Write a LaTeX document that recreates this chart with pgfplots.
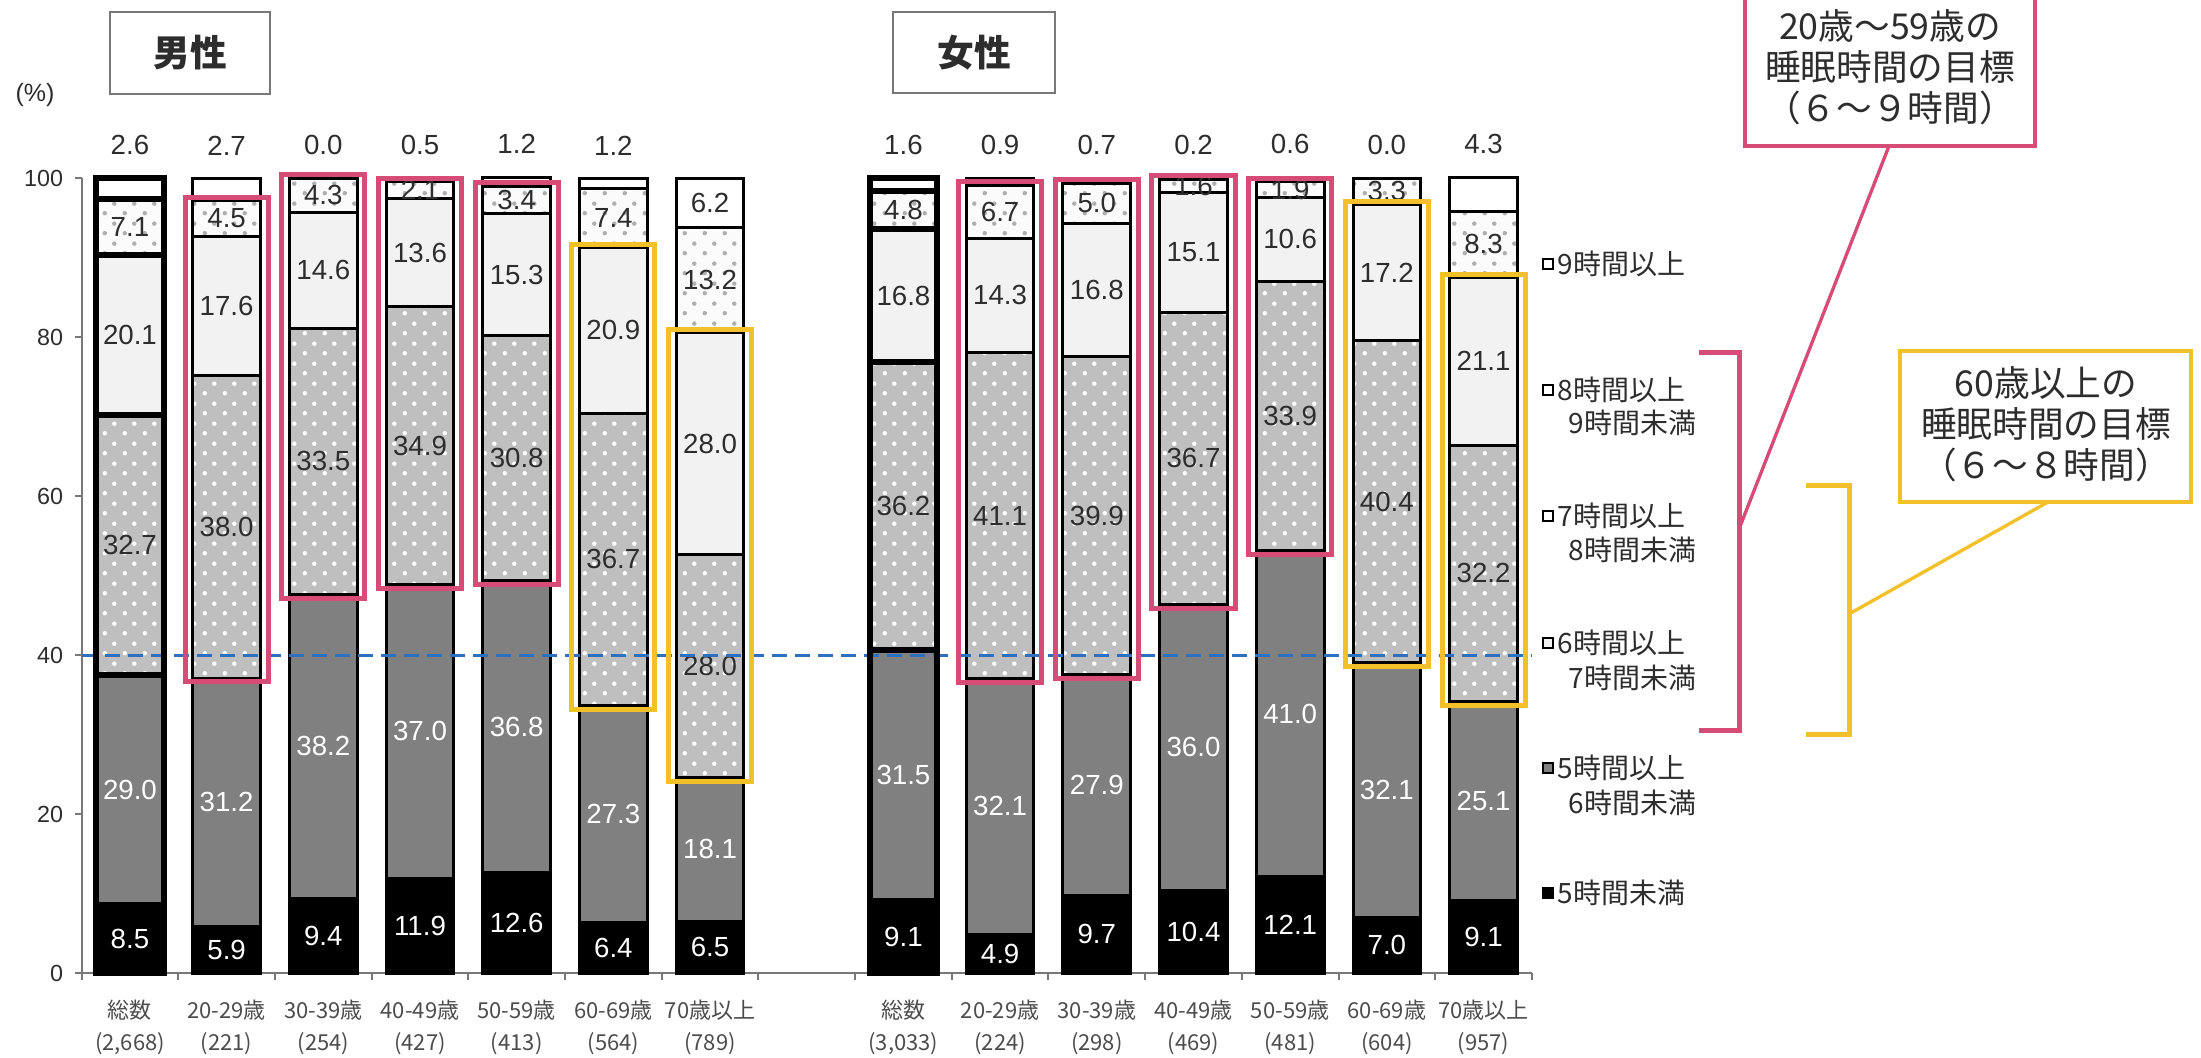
\documentclass[border=0pt]{standalone}
\usepackage{fontspec}
\setmainfont{Liberation Sans}
\newfontfamily\jp{Noto Sans CJK JP}
\usepackage{pgfplots}
\pgfplotsset{compat=1.18}
\usepackage{pgfplotstable}
\usetikzlibrary{patterns}

\pgfdeclarepatternformonly{bigdots}{\pgfpointorigin}{\pgfpoint{6pt}{6pt}}{\pgfpoint{6pt}{6pt}}{%
  \pgfpathcircle{\pgfpoint{1.5pt}{1.5pt}}{0.7pt}%
  \pgfpathcircle{\pgfpoint{4.5pt}{4.5pt}}{0.7pt}%
  \pgfusepath{fill}}

\definecolor{pinkc}{RGB}{214,76,118}
\definecolor{yelc}{RGB}{242,192,40}
\definecolor{bluec}{RGB}{46,112,190}
\definecolor{txt}{RGB}{45,45,45}
\definecolor{axc}{RGB}{120,120,120}
\definecolor{segb}{RGB}{128,128,128}
\definecolor{segc}{RGB}{191,191,191}
\definecolor{segd}{RGB}{242,242,242}
\definecolor{sege}{RGB}{251,251,251}
\definecolor{dotg}{RGB}{175,175,175}

\newcommand\vfont{\fontsize{8.3}{9}\selectfont}

\pgfplotstableread{
x a b c d e f
0 8.5 29.0 32.7 20.1 7.1 2.6
1 5.9 31.2 38.0 17.6 4.5 2.7
2 9.4 38.2 33.5 14.6 4.3 0.0
3 11.9 37.0 34.9 13.6 2.1 0.5
4 12.6 36.8 30.8 15.3 3.4 1.2
5 6.4 27.3 36.7 20.9 7.4 1.2
6 6.5 18.1 28.0 28.0 13.2 6.2
8 9.1 31.5 36.2 16.8 4.8 1.6
9 4.9 32.1 41.1 14.3 6.7 0.9
10 9.7 27.9 39.9 16.8 5.0 0.7
11 10.4 36.0 36.7 15.1 1.6 0.2
12 12.1 41.0 33.9 10.6 1.9 0.6
13 7.0 32.1 40.4 17.2 3.3 0.0
14 9.1 25.1 32.2 21.1 8.3 4.3
}\sleep

\pgfplotsset{
  calctop/.code={\pgfkeys{/pgf/fpu=true,/pgf/fpu/output format=fixed}%
     \pgfmathsetmacro\myshift{\pgfplotspointmeta>5 ? 0 : 10+\pgfplotspointmeta*1.1925}%
     \pgfkeys{/pgf/fpu=false}},
  seglabel/.style={
    point meta=explicit,
    nodes near coords={\pgfmathprintnumber[fixed,fixed zerofill,precision=1]{\pgfplotspointmeta}},
    every node near coord/.append style={anchor=center, inner sep=0pt, text=#1, font=\vfont},
  },
  toplabel/.style={
    point meta=explicit,
    nodes near coords={\pgfmathprintnumber[fixed,fixed zerofill,precision=1]{\pgfplotspointmeta}},
    every node near coord/.append style={anchor=center, inner sep=0pt,
      /pgfplots/calctop, yshift=\myshift pt, text=txt, font=\vfont},
  },
  common/.style={
    at={(24.48pt,-291.9pt)}, anchor=south west,
    scale only axis, width=435.1pt, height=238.5pt,
    xmin=-0.5, xmax=14.5, ymin=0, ymax=100,
    ybar stacked, bar width=0.7, clip=false,
  },
}

\begin{document}
\begin{tikzpicture}
\begin{axis}[common,
  axis x line*=bottom, axis y line*=left,
  axis line style={draw=axc, line width=0.6pt},
  tick style={draw=axc, line width=0.6pt},
  tick align=outside, major tick length=2pt,
  ytick={0,20,40,60,80,100},
  /pgf/number format/assume math mode=true,
  yticklabel style={font=\fontsize{7}{8}\selectfont, text=txt},
  xtick={-0.5,0.5,...,14.5},
  x tick label as interval,
  xticklabels={{総数\\(2,668)},{20-29歳\\(221)},{30-39歳\\(254)},{40-49歳\\(427)},{50-59歳\\(413)},{60-69歳\\(564)},{70歳以上\\(789)},{},{総数\\(3,033)},{20-29歳\\(224)},{30-39歳\\(298)},{40-49歳\\(469)},{50-59歳\\(481)},{60-69歳\\(604)},{70歳以上\\(957)}},
  xticklabel style={font=\jp\fontsize{6.6}{9.6}\selectfont, text=txt!85, align=center, yshift=-2.5pt},
]
\addplot[fill=black, draw=black, line width=0.9pt, seglabel=white] table[x=x,y=a,meta=a]{\sleep};
\addplot[fill=segb, draw=black, line width=0.9pt, seglabel=white] table[x=x,y=b,meta=b]{\sleep};
\addplot[fill=segc, draw=black, line width=0.9pt, postaction={pattern=bigdots, pattern color=white}, seglabel=txt] table[x=x,y=c,meta=c]{\sleep};
\addplot[fill=segd, draw=black, line width=0.9pt, seglabel=txt] table[x=x,y=d,meta=d]{\sleep};
\addplot[fill=sege, draw=black, line width=0.9pt, postaction={pattern=bigdots, pattern color=dotg}, seglabel=txt] table[x=x,y=e,meta=e]{\sleep};
\addplot[fill=white, draw=black, line width=0.9pt, toplabel] table[x=x,y=f,meta=f]{\sleep};
% zero-height segments (9h+ = 0.0) get their labels here
\node[font=\vfont, text=txt, inner sep=0pt, yshift=10pt] at (axis cs:2,100) {0.0};
\node[font=\vfont, text=txt, inner sep=0pt, yshift=10pt] at (axis cs:13,100) {0.0};
\end{axis}

\begin{axis}[common, hide axis]
\addplot[fill=none, draw=black, line width=1.8pt, x filter/.expression={or(x==0,x==8)?x:nan}] table[x=x,y=a]{\sleep};
\addplot[fill=none, draw=black, line width=1.8pt, x filter/.expression={or(x==0,x==8)?x:nan}] table[x=x,y=b]{\sleep};
\addplot[fill=none, draw=black, line width=1.8pt, x filter/.expression={or(x==0,x==8)?x:nan}] table[x=x,y=c]{\sleep};
\addplot[fill=none, draw=black, line width=1.8pt, x filter/.expression={or(x==0,x==8)?x:nan}] table[x=x,y=d]{\sleep};
\addplot[fill=none, draw=black, line width=1.8pt, x filter/.expression={or(x==0,x==8)?x:nan}] table[x=x,y=e]{\sleep};
\addplot[fill=none, draw=black, line width=1.8pt, x filter/.expression={or(x==0,x==8)?x:nan}] table[x=x,y=f]{\sleep};
% target ranges 6-9 h (20-59)
\draw[pinkc, line width=1.5pt] (0.57,36.7) rectangle (1.43,97.6);
\draw[pinkc, line width=1.5pt] (1.57,47.1) rectangle (2.43,100.4);
\draw[pinkc, line width=1.5pt] (2.57,48.4) rectangle (3.43,100.0);
\draw[pinkc, line width=1.5pt] (3.57,48.9) rectangle (4.43,99.4);
\draw[pinkc, line width=1.5pt] (8.57,36.5) rectangle (9.43,99.6);
\draw[pinkc, line width=1.5pt] (9.57,37.1) rectangle (10.43,99.8);
\draw[pinkc, line width=1.5pt] (10.57,45.9) rectangle (11.43,100.3);
\draw[pinkc, line width=1.5pt] (11.57,52.6) rectangle (12.43,100.0);
% target ranges 6-8 h (60+)
\draw[yelc, line width=1.5pt] (4.57,33.2) rectangle (5.43,91.6);
\draw[yelc, line width=1.5pt] (5.57,24.1) rectangle (6.43,80.9);
\draw[yelc, line width=1.5pt] (12.57,38.6) rectangle (13.43,97.0);
\draw[yelc, line width=1.5pt] (13.57,33.7) rectangle (14.43,87.8);
\draw[bluec, line width=0.9pt, dash pattern=on 4.5pt off 2.4pt] (-0.5,40) -- (14.5,40);
\end{axis}

\begin{scope}[x=0.3pt,y=-0.3pt]
% titles
\draw[axc, line width=0.7pt, fill=white] (110,12) rectangle (270,94);
\node[font=\jp\bfseries\fontsize{11}{12}\selectfont, text=txt] at (190,53) {男性};
\draw[axc, line width=0.7pt, fill=white] (893,12) rectangle (1055,93);
\node[font=\jp\bfseries\fontsize{11}{12}\selectfont, text=txt] at (974,53) {女性};
\node[font=\fontsize{7.5}{8}\selectfont, text=txt] at (35,95) {(\%)};
% legend
\tikzset{lg/.style={anchor=west, inner sep=0pt, font=\jp\fontsize{8.4}{10}\selectfont, text=txt}}
\draw[black, line width=0.7pt, fill=white] (1543,259) rectangle (1553,269);
\node[lg] at (1557,264) {9時間以上};
\draw[black, line width=0.7pt, fill=white] (1543,385) rectangle (1553,395);
\node[lg] at (1557,390) {8時間以上};
\node[lg] at (1568,423) {9時間未満};
\draw[black, line width=0.7pt, fill=white] (1543,511) rectangle (1553,521);
\node[lg] at (1557,516) {7時間以上};
\node[lg] at (1568,550) {8時間未満};
\draw[black, line width=0.7pt, fill=segd] (1543,638) rectangle (1553,648);
\node[lg] at (1557,643) {6時間以上};
\node[lg] at (1568,678) {7時間未満};
\draw[black, line width=0.7pt, fill=segb] (1543,763) rectangle (1553,773);
\node[lg] at (1557,768) {5時間以上};
\node[lg] at (1568,803) {6時間未満};
\draw[black, line width=0.7pt, fill=black] (1543,888) rectangle (1553,898);
\node[lg] at (1557,893) {5時間未満};
% brackets and callouts
\draw[pinkc, line width=1.5pt] (1699,352) -- (1739,352) -- (1739,730) -- (1699,730);
\draw[pinkc, line width=1pt] (1739,529) -- (1889,146);
\draw[yelc, line width=1.5pt] (1806,485) -- (1849,485) -- (1849,734) -- (1806,734);
\draw[yelc, line width=1pt] (1849,614) -- (2048,502);
\draw[pinkc, line width=1.2pt, fill=white] (1745,-20) rectangle (2035,146);
\tikzset{cb/.style={inner sep=0pt, font=\jp\fontsize{10.7}{12}\selectfont, text=txt}}
\node[cb] at (1890,26) {20歳～59歳の};
\node[cb] at (1890,67) {睡眠時間の目標};
\node[cb] at (1890,108) {（６～９時間）};
\draw[yelc, line width=1.2pt, fill=white] (1900,351) rectangle (2191,502);
\node[cb] at (2046,383) {60歳以上の};
\node[cb] at (2046,424) {睡眠時間の目標};
\node[cb] at (2046,465) {（６～８時間）};
\pgfresetboundingbox
\path[use as bounding box] (0,0) rectangle (2201,1057);
\end{scope}
\end{tikzpicture}
\end{document}
